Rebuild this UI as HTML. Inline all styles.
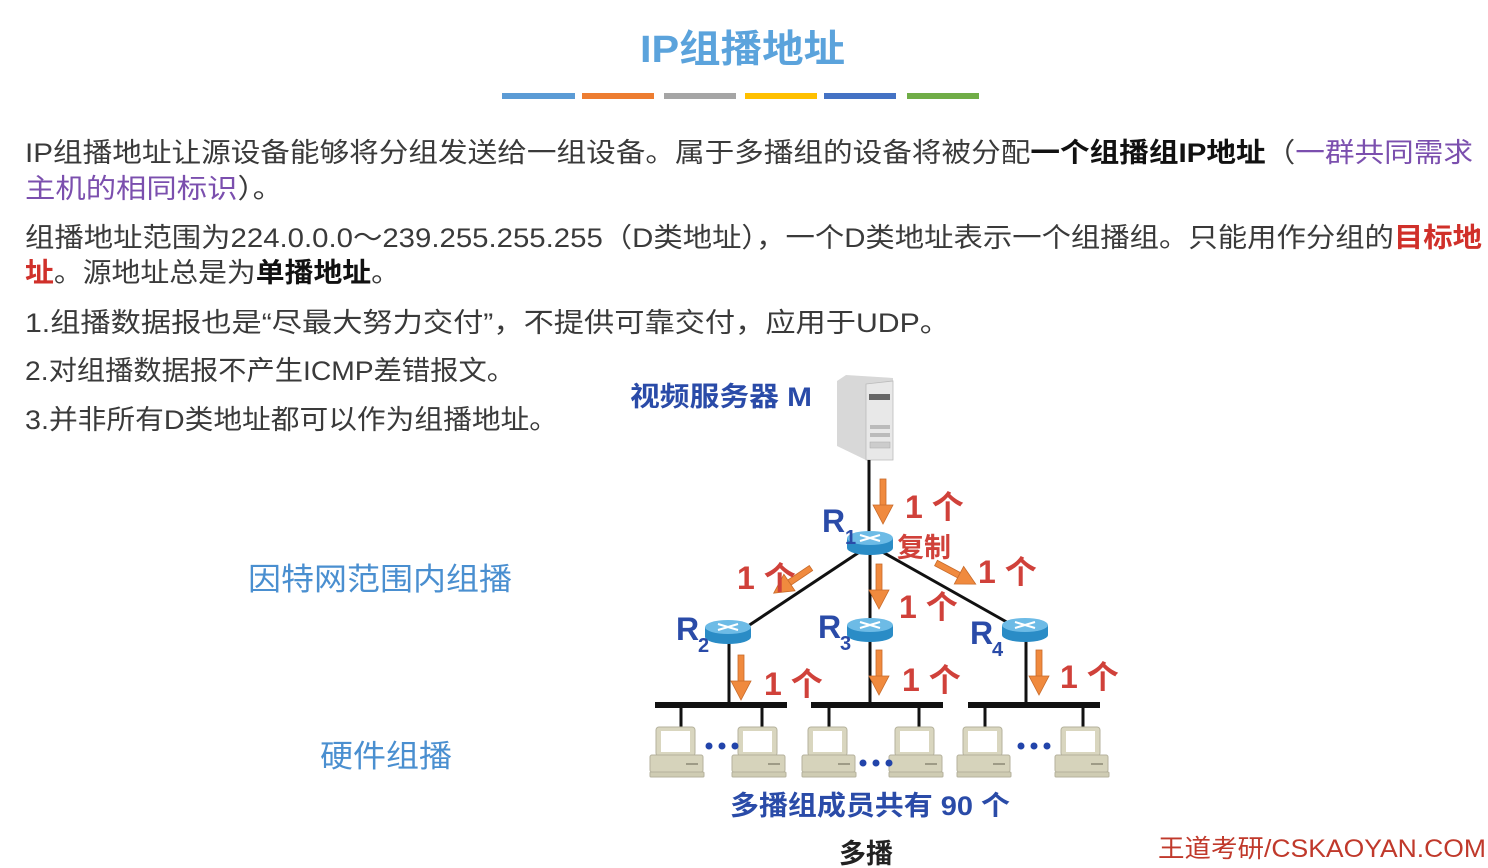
<!DOCTYPE html>
<html><head><meta charset="utf-8"><style>
html,body{margin:0;padding:0;background:#fff;}
body{width:1488px;height:868px;overflow:hidden;}
svg{display:block;}
.t{font-family:"Liberation Sans","Noto Sans CJK SC",sans-serif;font-size:27px;fill:#3a3a3a;}
.b{font-weight:bold;fill:#111;}
.p{fill:#7b4fae;}
.r{fill:#d0302a;}
.lab{font-family:"Liberation Sans","Noto Sans CJK SC",sans-serif;font-weight:bold;fill:#2a4ba8;}
.red{font-family:"Liberation Sans","Noto Sans CJK SC",sans-serif;font-weight:bold;fill:#d0413a;font-size:32px;}
</style></head><body>
<svg width="1488" height="868" viewBox="0 0 1488 868" xmlns="http://www.w3.org/2000/svg">
<defs>
<g id="pc">
<rect x="6" y="0" width="39" height="29" rx="3" fill="#d9d6bf" stroke="#b5b29c"/>
<rect x="11" y="4" width="29" height="21" fill="#fff"/>
<rect x="0" y="28" width="53" height="17" rx="2" fill="#d6d3bb" stroke="#b5b29c"/>
<rect x="36" y="36" width="12" height="2" fill="#9e9b86"/>
<rect x="0" y="45" width="54" height="5" rx="1" fill="#cfccb3" stroke="#b5b29c"/>
</g>
<g id="rt">
<path d="M-23,0 v10 a23,7 0 0 0 46,0 v-10 z" fill="#2a8cc6"/>
<ellipse cx="0" cy="0" rx="23" ry="7" fill="#6dbbe6"/>
<path d="M-10,-3 L10,3 M-10,3 L10,-3" stroke="#fff" stroke-width="2"/>
</g>
<g id="ar">
<rect x="-3" y="0" width="6" height="30" fill="#f08a3e" stroke="#c86a2a" stroke-width="0.8"/>
<path d="M-10,26 L10,26 L0,45 z" fill="#f08a3e" stroke="#c86a2a" stroke-width="0.8"/>
</g>
</defs>

<text x="640" y="62" textLength="205" lengthAdjust="spacingAndGlyphs" font-family="Liberation Sans,Noto Sans CJK SC,sans-serif" font-weight="bold" font-size="38" fill="#5ba3dc">IP组播地址</text>
<rect x="502" y="93" width="73" height="6" fill="#5b9bd5"/>
<rect x="582" y="93" width="72" height="6" fill="#ed7d31"/>
<rect x="664" y="93" width="72" height="6" fill="#a5a5a5"/>
<rect x="745" y="93" width="72" height="6" fill="#ffc000"/>
<rect x="824" y="93" width="72" height="6" fill="#4472c4"/>
<rect x="907" y="93" width="72" height="6" fill="#70ad47"/>

<text class="t" x="25" y="162" textLength="1448" lengthAdjust="spacingAndGlyphs">IP组播地址让源设备能够将分组发送给一组设备。属于多播组的设备将被分配<tspan class="b">一个组播组IP地址</tspan>（<tspan class="p">一群共同需求</tspan></text>
<text class="t" x="25" y="198" textLength="258" lengthAdjust="spacingAndGlyphs"><tspan class="p">主机的相同标识</tspan>）。</text>
<text class="t" x="25" y="247" textLength="1457" lengthAdjust="spacingAndGlyphs">组播地址范围为224.0.0.0～239.255.255.255（D类地址），一个D类地址表示一个组播组。只能用作分组的<tspan class="r" font-weight="bold">目标地</tspan></text>
<text class="t" x="25" y="282" textLength="375" lengthAdjust="spacingAndGlyphs"><tspan class="r" font-weight="bold">址</tspan>。源地址总是为<tspan class="b">单播地址</tspan>。</text>
<text class="t" x="25" y="332" textLength="925" lengthAdjust="spacingAndGlyphs">1.组播数据报也是“尽最大努力交付”，不提供可靠交付，应用于UDP。</text>
<text class="t" x="25" y="380" textLength="490" lengthAdjust="spacingAndGlyphs">2.对组播数据报不产生ICMP差错报文。</text>
<text class="t" x="25" y="429" textLength="533" lengthAdjust="spacingAndGlyphs">3.并非所有D类地址都可以作为组播地址。</text>

<text x="248" y="590" textLength="264" lengthAdjust="spacingAndGlyphs" font-family="Liberation Sans,Noto Sans CJK SC,sans-serif" font-size="31" fill="#4a8fd0">因特网范围内组播</text>
<text x="320" y="767" textLength="132" lengthAdjust="spacingAndGlyphs" font-family="Liberation Sans,Noto Sans CJK SC,sans-serif" font-size="31" fill="#4a8fd0">硬件组播</text>

<text class="lab" x="630" y="406" font-size="27" textLength="182" lengthAdjust="spacingAndGlyphs">视频服务器 M</text>

<!-- server -->
<path d="M837,381 L846,375 L893,378 L893,460 L866,460 L837,446 z" fill="#d8d8d8"/>
<path d="M866,384 L893,381 L893,460 L866,460 z" fill="#e8e8e8" stroke="#bbb" stroke-width="0.8"/>
<rect x="869" y="394" width="21" height="6" fill="#666"/>
<rect x="870" y="425" width="20" height="4" fill="#bbb"/>
<rect x="870" y="433" width="20" height="4" fill="#bbb"/>
<rect x="870" y="442" width="20" height="6" fill="#ccc" stroke="#aaa" stroke-width="0.5"/>

<g stroke="#111" stroke-width="3" fill="none">
<line x1="869" y1="460" x2="869" y2="540"/>
<line x1="870" y1="545" x2="745" y2="628"/>
<line x1="870" y1="545" x2="1012" y2="625"/>
<line x1="870" y1="545" x2="870" y2="628"/>
<line x1="729" y1="635" x2="729" y2="705"/>
<line x1="870" y1="635" x2="870" y2="705"/>
<line x1="1026" y1="635" x2="1026" y2="705"/>
<line x1="681" y1="705" x2="681" y2="728"/>
<line x1="762" y1="705" x2="762" y2="728"/>
<line x1="829" y1="705" x2="829" y2="728"/>
<line x1="919" y1="705" x2="919" y2="728"/>
<line x1="985" y1="705" x2="985" y2="728"/>
<line x1="1083" y1="705" x2="1083" y2="728"/>
</g>
<rect x="655" y="702" width="132" height="6" fill="#111"/>
<rect x="811" y="702" width="132" height="6" fill="#111"/>
<rect x="968" y="702" width="132" height="6" fill="#111"/>

<use href="#rt" x="870" y="538"/>
<use href="#rt" x="728" y="627"/>
<use href="#rt" x="870" y="625"/>
<use href="#rt" x="1025" y="625"/>

<g class="lab">
<text x="822" y="532" font-size="32">R</text><text x="845" y="544" font-size="20">1</text>
<text x="676" y="640" font-size="32">R</text><text x="698" y="652" font-size="20">2</text>
<text x="818" y="638" font-size="32">R</text><text x="840" y="650" font-size="20">3</text>
<text x="970" y="644" font-size="32">R</text><text x="992" y="656" font-size="20">4</text>
</g>

<use href="#pc" x="650" y="727"/>
<use href="#pc" x="732" y="727"/>
<use href="#pc" x="802" y="727"/>
<use href="#pc" x="889" y="727"/>
<use href="#pc" x="957" y="727"/>
<use href="#pc" x="1055" y="727"/>
<g fill="#2244aa">
<circle cx="709" cy="746" r="3.5"/><circle cx="722" cy="746" r="3.5"/><circle cx="735" cy="746" r="3.5"/>
<circle cx="863" cy="763" r="3.5"/><circle cx="876" cy="763" r="3.5"/><circle cx="889" cy="763" r="3.5"/>
<circle cx="1021" cy="746" r="3.5"/><circle cx="1034" cy="746" r="3.5"/><circle cx="1047" cy="746" r="3.5"/>
</g>

<use href="#ar" x="883" y="479"/>
<use href="#ar" x="879" y="564"/>
<use href="#ar" x="741" y="655"/>
<use href="#ar" x="879" y="650"/>
<use href="#ar" x="1039" y="650"/>
<g transform="translate(811,568) rotate(56)"><use href="#ar"/></g>
<g transform="translate(936,563) rotate(-62)"><use href="#ar"/></g>

<g class="red">
<text x="905" y="518">1 个</text>
<text x="897" y="557" font-size="27">复制</text>
<text x="737" y="589">1 个</text>
<text x="978" y="583">1 个</text>
<text x="899" y="618">1 个</text>
<text x="764" y="695">1 个</text>
<text x="902" y="691">1 个</text>
<text x="1060" y="688">1 个</text>
</g>

<text class="lab" x="730" y="815" font-size="27" textLength="280" lengthAdjust="spacingAndGlyphs">多播组成员共有 90 个</text>
<text x="866" y="863" font-family="Liberation Sans,Noto Sans CJK SC,sans-serif" font-weight="bold" font-size="27" fill="#222" text-anchor="middle">多播</text>
<text x="1158" y="857" textLength="328" lengthAdjust="spacingAndGlyphs" font-family="Liberation Sans,Noto Sans CJK SC,sans-serif" font-size="25" fill="#c0392b">王道考研/CSKAOYAN.COM</text>
</svg>
</body></html>
